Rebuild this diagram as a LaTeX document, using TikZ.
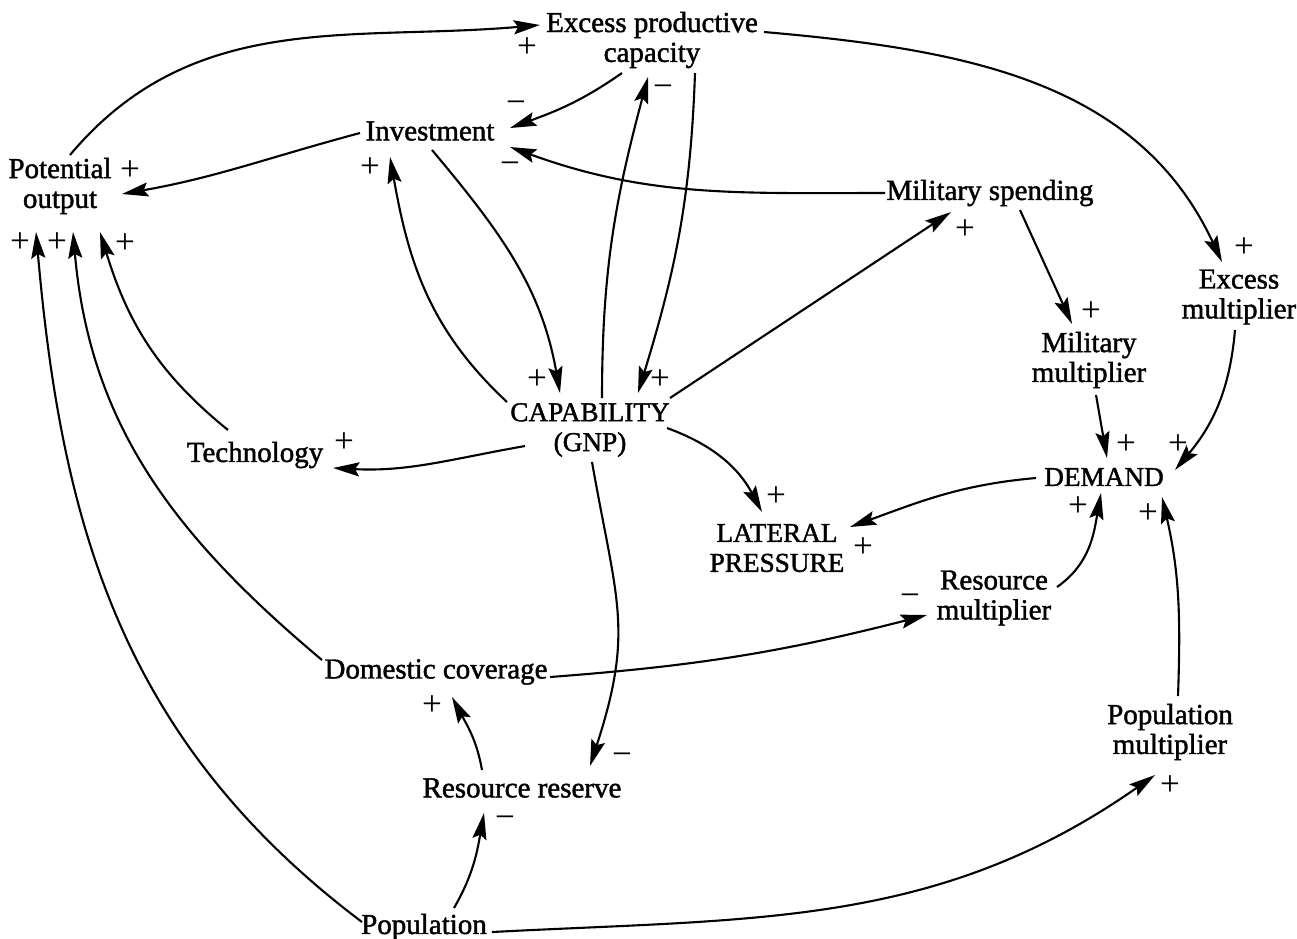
\documentclass[tikz,border=0pt]{standalone}
\usepackage{fontspec}
\setmainfont{Liberation Serif}[BoldFont={Liberation Serif}, BoldFeatures={FakeBold=1.5}]
\usetikzlibrary{arrows.meta, calc}
\tikzset{head/.tip={Stealth[length=15pt, width=8pt, inset=2.5pt]}}
\tikzstyle{var}=[align=center, inner sep=3pt, font=\fontsize{16.5}{17}\selectfont\bfseries]
\tikzstyle{bigvar}=[var, font=\fontsize{15.5}{17}\selectfont\bfseries]
\tikzstyle{arr}=[line width=1.2pt, -head]
\tikzstyle{sgn}=[inner sep=0pt, font=\fontsize{20}{20}\selectfont]

\begin{document}
\begin{tikzpicture}[x=0.02cm, y=0.02cm]
    \useasboundingbox (0,0) rectangle (1297,-938);

    \node [var] (exc) at (652,-40) {Excess productive\\capacity};
    \node [var] (inv) at (430,-131) {Investment};
    \node [var] (pot) at (60,-186) {Potential\\output};
    \node [var] (mil) at (990,-193) {Military spending};
    \node [var] (exm) at (1239,-297) {Excess\\multiplier};
    \node [var] (mim) at (1089,-360) {Military\\multiplier};
    \node [bigvar] (cap) at (590,-430) {CAPABILITY\\(GNP)};
    \node [var] (tec) at (255,-455) {Technology};
    \node [bigvar] (dem) at (1104,-477) {DEMAND};
    \node [bigvar] (lat) at (777,-548) {LATERAL\\PRESSURE};
    \node [var] (rem) at (994,-598) {Resource\\multiplier};
    \node [var] (dom) at (436,-672) {Domestic coverage};
    \node [var] (pom) at (1170,-732) {Population\\multiplier};
    \node [var] (res) at (522,-788) {Resource reserve};
    \node [var] (pop) at (424,-927) {Population};

    % upper loops
    \path ($(pot)+(10,31)$) edge[arr, out=50, in=185] node[sgn, at end, shift={(-13,-23)}] {+} ($(exc)+(-112,15)$);
    \path ($(exc)+(-30,-33)$) edge[arr, out=215, in=20] node[sgn, at end, shift={(6,21)}] {−} ($(inv)+(80,3)$);
    \path ($(exc)+(112,8)$) edge[arr, out=-5, in=115] node[sgn, at end, shift={(22,14)}] {+} ($(exm)+(-17,35)$);
    \path ($(inv)+(-70,-2)$) edge[arr, out=195, in=10] node[sgn, at end, shift={(8,23)}] {+} ($(pot)+(62,-8)$);
    \path ($(mil)+(-105,0)$) edge[arr, out=180, in=-20] node[sgn, at end, shift={(0,-21)}] {−} ($(inv)+(80,-16)$);
    \path ($(cap)+(-83,28)$) edge[arr, out=137, in=-80] node[sgn, at end, shift={(-20,-11)}] {+} ($(inv)+(-40,-26)$);
    \path ($(inv)+(2,-19)$) edge[arr, out=-50, in=100] node[sgn, at end, shift={(-23,13)}] {+} ($(cap)+(-30,37)$);
    \path ($(cap)+(12,32)$) edge[arr, out=90, in=-105] node[sgn, at end, shift={(15,-14)}] {−} ($(exc)+(-4,-37)$);
    \path ($(exc)+(43,-33)$) edge[arr, out=-92, in=73] node[sgn, at end, shift={(22,13)}] {+} ($(cap)+(48,37)$);
    \path ($(cap)+(80,32)$) edge[arr] node[sgn, at end, shift={(14,-18)}] {+} ($(mil)+(-39,-19)$);
    \path ($(cap)+(-65,-16)$) edge[arr, out=190, in=-3] node[sgn, at end, shift={(11,25)}] {+} ($(tec)+(78,-13)$);
    \path ($(tec)+(-27,25)$) edge[arr, out=141, in=-73] node[sgn, at end, shift={(25,-12)}] {+} ($(pot)+(40,-46)$);
    \path ($(cap)+(77,2)$) edge[arr, out=-20, in=118] node[sgn, at end, shift={(14,15)}] {+} ($(lat)+(-15,36)$);
    \path ($(cap)+(2,-32)$) edge[arr, out=-80, in=72, looseness=1.2] node[sgn, at end, shift={(32,7)}] {−} ($(res)+(68,22)$);

    % multipliers and demand
    \path ($(mil)+(30,-17)$) edge[arr] node[sgn, at end, shift={(19,12)}] {+} ($(mim)+(-17,36)$);
    \path ($(exm)+(-4,-33)$) edge[arr, out=265, in=50] node[sgn, at end, shift={(3,25)}] {+} ($(dem)+(71,7)$);
    \path ($(mim)+(7,-35)$) edge[arr] node[sgn, at end, shift={(19,13)}] {+} ($(dem)+(3,19)$);
    \path ($(dem)+(-68,-1)$) edge[arr, out=185, in=20] node[sgn, at end, shift={(13,-21)}] {+} ($(lat)+(73,21)$);
    \path ($(rem)+(63,11)$) edge[arr, out=35, in=-100] node[sgn, at end, shift={(-23,-14)}] {+} ($(dem)+(-3,-16)$);
    \path ($(pom)+(8,36)$) edge[arr, out=88, in=-77] node[sgn, at end, shift={(-14,-17)}] {+} ($(dem)+(58,-20)$);

    % resources and population
    \path ($(dom)+(114,-5)$) edge[arr, bend right=5] node[sgn, at end, shift={(-17,15)}] {−} ($(rem)+(-67,-17)$);
    \path ($(dom)+(-114,12)$) edge[arr, out=140, in=-85] node[sgn, at end, shift={(-16,-11)}] {+} ($(pot)+(13,-46)$);
    \path ($(res)+(-40,18)$) edge[arr, out=100, in=-62] node[sgn, at end, shift={(-20,-9)}] {+} ($(dom)+(16,-25)$);
    \path ($(pop)+(30,19)$) edge[arr, out=60, in=-100] node[sgn, at end, shift={(21,-9)}] {−} ($(res)+(-38,-25)$);
    \path ($(pop)+(-62,5)$) edge[arr, out=143, in=-85] node[sgn, at end, shift={(-16,-11)}] {+} ($(pot)+(-24,-46)$);
    \path ($(pop)+(68,-5)$) edge[arr, out=3, in=215] node[sgn, at end, shift={(15,-11)}] {+} ($(pom)+(-15,-43)$);
\end{tikzpicture}
\end{document}
